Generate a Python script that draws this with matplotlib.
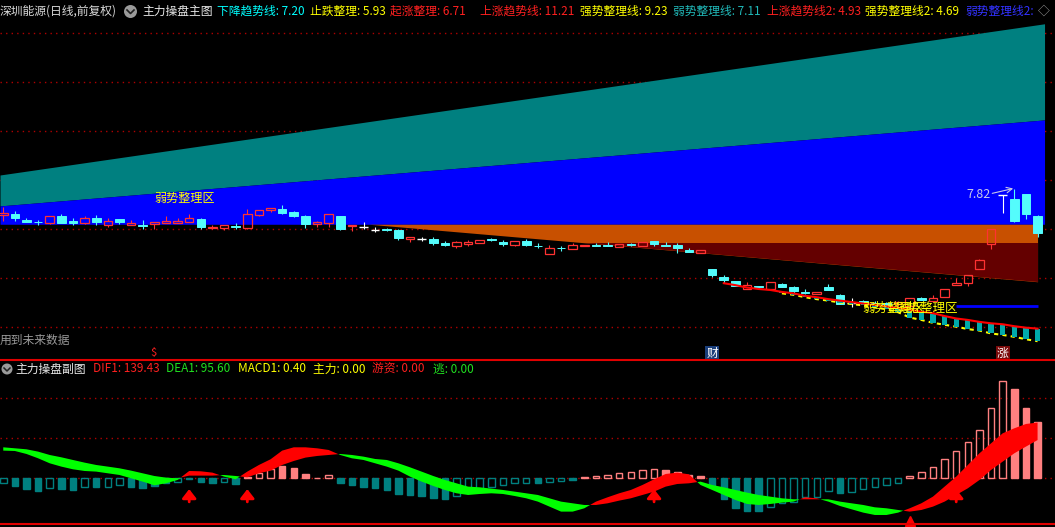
import numpy as np
import matplotlib
matplotlib.use("Agg")
import matplotlib.pyplot as plt
from matplotlib.lines import Line2D
from matplotlib.patches import Ellipse

plt.rcParams['font.family'] = ['Noto Sans CJK SC', 'DejaVu Sans']

# ---- main chart data (daily candles) ----
opens = [7.28, 7.30, 7.18, 7.14, 7.12, 7.26, 7.16, 7.12, 7.23, 7.08,
         7.19, 7.08, 7.08, 7.09, 7.12, 7.12, 7.14, 7.19, 7.02, 7.01,
         7.05, 7.02, 7.29, 7.39, 7.41, 7.34, 7.26, 7.09, 7.11, 7.26,
         7.05, 7.03, 6.98, 6.99, 6.97, 6.78, 6.79, 6.79, 6.70, 6.63,
         6.69, 6.71, 6.78, 6.72, 6.67, 6.74, 6.64, 6.48, 6.60, 6.58,
         6.63, 6.67, 6.67, 6.61, 6.68, 6.63, 6.74, 6.66, 6.67, 6.56,
         6.50, 6.16, 5.99, 5.92, 5.76, 5.81, 5.76, 5.86, 5.79, 5.69,
         5.65, 5.80, 5.62, 5.47, 5.50, 5.47, 5.46, 5.43, 5.40, 5.56,
         5.51, 5.58, 5.83, 5.88, 6.16, 6.68, 7.70, 7.61, 7.72, 7.26]
closes = [7.33, 7.21, 7.14, 7.13, 7.26, 7.12, 7.12, 7.23, 7.14, 7.15,
          7.14, 7.12, 7.05, 7.13, 7.16, 7.16, 7.23, 7.03, 7.04, 7.08,
          7.03, 7.30, 7.38, 7.42, 7.33, 7.27, 7.10, 7.13, 7.30, 6.99,
          7.08, 7.03, 6.98, 6.97, 6.81, 6.82, 6.79, 6.70, 6.67, 6.72,
          6.72, 6.76, 6.77, 6.68, 6.74, 6.66, 6.63, 6.60, 6.59, 6.66,
          6.66, 6.65, 6.63, 6.68, 6.67, 6.72, 6.68, 6.65, 6.60, 6.52,
          6.55, 6.03, 5.94, 5.81, 5.83, 5.79, 5.90, 5.80, 5.71, 5.67,
          5.69, 5.73, 5.45, 5.47, 5.47, 5.44, 5.42, 5.48, 5.56, 5.52,
          5.56, 5.76, 5.87, 6.05, 6.35, 6.99, 7.70, 7.16, 7.31, 6.90]
highs = [7.45, 7.37, 7.23, 7.18, 7.26, 7.30, 7.22, 7.26, 7.29, 7.21,
         7.19, 7.18, 7.18, 7.13, 7.26, 7.21, 7.30, 7.23, 7.08, 7.08,
         7.11, 7.40, 7.38, 7.42, 7.49, 7.36, 7.28, 7.16, 7.30, 7.26,
         7.08, 7.13, 7.04, 7.02, 6.99, 6.82, 6.83, 6.82, 6.74, 6.75,
         6.76, 6.76, 6.80, 6.76, 6.74, 6.79, 6.70, 6.66, 6.64, 6.70,
         6.67, 6.70, 6.72, 6.68, 6.71, 6.72, 6.74, 6.72, 6.70, 6.60,
         6.55, 6.16, 6.03, 5.92, 5.90, 5.81, 5.90, 5.87, 5.81, 5.75,
         5.69, 5.85, 5.64, 5.56, 5.52, 5.50, 5.49, 5.50, 5.56, 5.58,
         5.63, 5.76, 5.97, 6.05, 6.38, 6.99, 7.70, 7.82, 7.72, 7.28]
lows = [7.16, 7.16, 7.14, 7.07, 7.10, 7.12, 7.08, 7.10, 7.07, 7.04,
        7.10, 7.08, 7.00, 6.99, 7.12, 7.12, 7.14, 7.00, 6.99, 6.97,
        6.99, 6.99, 7.26, 7.34, 7.30, 7.25, 7.02, 7.04, 7.04, 6.98,
        6.96, 6.99, 6.92, 6.95, 6.76, 6.73, 6.75, 6.66, 6.63, 6.60,
        6.65, 6.71, 6.75, 6.64, 6.63, 6.63, 6.59, 6.48, 6.54, 6.58,
        6.63, 6.65, 6.63, 6.61, 6.63, 6.63, 6.64, 6.65, 6.50, 6.52,
        6.50, 5.99, 5.87, 5.81, 5.76, 5.74, 5.72, 5.79, 5.66, 5.64,
        5.65, 5.73, 5.44, 5.38, 5.44, 5.40, 5.38, 5.40, 5.40, 5.52,
        5.51, 5.58, 5.83, 5.81, 6.16, 6.57, 7.33, 7.14, 7.19, 6.82]

# trend zones: values at the left / right edge of the chart
edge_x = [-0.28, 89.6]
up_trend = [8.11, 11.24]       # 上涨趋势线
strong_line = [7.47, 9.25]     # 强势整理线
weak_line = [7.09, 7.09]       # 弱势整理线
zone_x = [31.5, 89.0]
stop_line = [7.09, 5.90]       # 止跌整理
rise_line = [6.71, 6.71]       # 起涨整理

# support band on the right (上涨趋势线2 / 强势整理线2)
up2_start = 62
up2 = [5.87, 5.83, 5.78, 5.75, 5.73, 5.69, 5.66, 5.61, 5.58, 5.54,
       5.51, 5.48, 5.45, 5.42, 5.39, 5.36, 5.32, 5.28, 5.25, 5.19,
       5.14, 5.11, 5.07, 5.04, 5.02, 4.98, 4.95, 4.93]
strong2_start = 67
strong2 = [5.66, 5.63, 5.58, 5.54, 5.51, 5.47, 5.44, 5.41, 5.37, 5.33,
           5.27, 5.16, 5.11, 5.05, 5.01, 4.97, 4.92, 4.89, 4.83, 4.80,
           4.76, 4.71, 4.67]
weak2_x = [82, 89]
weak2 = 5.40

grid_prices = [4.96, 5.98, 6.99, 8.01, 9.02, 10.03, 11.05]

# ---- sub chart data ----
dif = [69.2, 68.3, 60.8, 50, 37.5, 29.2, 22.5, 18.3, 16.7, 12.5,
       8.3, 0, -8.3, -17.5, -12.5, -4.2, 18.3, 17.5, 14.2, 4.2,
       -2.5, 16.7, 33.3, 47.5, 69.2, 77.5, 77.5, 75, 70.8, 58.3,
       50, 45.8, 37.5, 29.2, 19.2, 4.2, -8.3, -19.2, -29.2, -37.5,
       -41.7, -39.2, -37.5, -39.2, -44.2, -50, -58.3, -70.8, -83.3, -83.3,
       -75, -58.3, -47.5, -37.5, -29.2, -16.7, -2.5, 10.8, 14.2, 10,
       -16.7, -29.2, -41.7, -54.2, -64.2, -66.7, -64.2, -60.8, -58.3, -47.5,
       -50, -58.3, -69.2, -77.5, -85.8, -91.7, -91.7, -85.8, -75, -62.5,
       -45.8, -20.8, 4.2, 33.3, 62.5, 87.5, 112.5, 125, 135.8, 139.43]
dea = [77.5, 75, 72.5, 66.7, 58.3, 52.5, 45.8, 39.2, 33.3, 29.2,
       25, 19.2, 12.5, 5.8, 1.7, 0, 6.7, 6.7, 6.7, 8.3,
       5.8, 2.5, 12.5, 19.2, 33.3, 43.3, 51.7, 55.8, 58.3, 60.8,
       58.3, 54.2, 48.3, 45.8, 37.5, 27.5, 16.7, 5.8, -4.2, -12.5,
       -20.8, -22.5, -25.8, -29.2, -33.3, -37.5, -41.7, -50, -58.3, -62.5,
       -66.7, -66.7, -62.5, -55.8, -50, -41.7, -33.3, -20.8, -14.2, -12.5,
       -8.3, -16.7, -22.5, -29.2, -35.8, -41.7, -45.8, -50, -52.5, -52.5,
       -52.5, -52.5, -58.3, -62.5, -66.7, -72.5, -75, -79.2, -83.3, -79.2,
       -70.8, -58.3, -41.7, -25, -4.2, 20.8, 41.7, 62.5, 79.2, 95.6]
hist = [-12.5, -19.2, -26.7, -31.7, -23.3, -26.7, -29.2, -20.8, -20.8, -20.8,
        -17.5, -20.8, -23.3, -19.2, -12.5, -10, -1.7, -8.3, -12.5, -10,
        -13.3, 4.2, 12.5, 22.5, 30.8, 25, 10.8, 1.7, 7.5, -10.8,
        -16.7, -20.8, -23.3, -29.2, -39.2, -41.7, -44.2, -48.3, -51.7, -43.3,
        -33.3, -29.2, -22.5, -17.5, -10.8, -10.8, -10.8, -10, -7.5, -3.3,
        3.3, 5, 7.5, 12.5, 15, 20, 22.5, 20, 15, 8.3,
        5, -20.8, -52.5, -73.3, -80.8, -80.8, -70.8, -62.5, -60, -47.5,
        -45.8, -30.8, -35.8, -33.3, -27.5, -22.5, -17.5, -10.8, 5.8, 15,
        27.5, 47.5, 67.5, 90, 120, 175, 244.2, 223.3, 175.8, 140.8]
hollow = [1, 0, 0, 0, 1, 0, 0, 1, 0, 1,
          1, 0, 0, 0, 0, 1, 0, 0, 0, 1,
          0, 0, 1, 1, 0, 0, 0, 0, 1, 0,
          0, 0, 0, 0, 0, 0, 0, 0, 0, 1,
          1, 1, 1, 1, 1, 1, 0, 1, 1, 0,
          0, 1, 1, 1, 1, 1, 1, 0, 0, 0,
          0, 0, 0, 0, 0, 0, 1, 1, 1, 1,
          1, 1, 0, 1, 1, 1, 1, 1, 1, 1,
          1, 1, 1, 1, 1, 1, 1, 0, 0, 0]
arrow_idx = [16, 21, 56, 82]
triangle_idx = [78]

RED = '#FF3232'
CYAN = '#54FCFC'
TEAL = '#008080'
PINK = '#FF8080'
YEL = '#FFFF00'

W, H = 1055, 527
fig = plt.figure(figsize=(W / 100, H / 100), dpi=100, facecolor='black')


def fx(px):
    return px / W


def fy(py):
    return 1 - py / H


ax = fig.add_axes([0, fy(358), 1, (358 - 20) / H])
ax2 = fig.add_axes([0, 0, 1, (527 - 360) / H])
for a in (ax, ax2):
    a.axis('off')
    a.set_xlim(-0.28, 90.5)
ax.set_ylim(4.322, 11.318)
ax2.set_ylim(-121.75, 295.75)

# ---------------- main chart ----------------
for p in grid_prices:
    ax.axhline(p, color='#B00000', lw=1, ls=(0, (1, 3)), zorder=0)

ax.fill_between(edge_x, strong_line, up_trend, color='#008080', lw=0, zorder=1)
ax.fill_between(edge_x, weak_line, strong_line, color='#0000FF', lw=0, zorder=1)
ax.fill_between(zone_x, weak_line, stop_line, color='#C85000', lw=0, zorder=1)
ax.fill_between(zone_x, rise_line, stop_line,
                where=np.less(stop_line, rise_line), interpolate=True,
                color='#640000', lw=0, zorder=1)

x = np.arange(len(opens))
o, c = np.array(opens), np.array(closes)
h, l = np.array(highs), np.array(lows)
up, dn, flat = c > o, c < o, c == o
bw = 0.74

# up candles: hollow body, wick drawn only outside the body
ax.vlines(x[up], l[up], o[up], color=RED, lw=0.8, zorder=4)
ax.vlines(x[up], c[up], h[up], color=RED, lw=0.8, zorder=4)
ax.bar(x[up], c[up] - o[up], bottom=o[up], width=bw, facecolor='none',
       edgecolor=RED, lw=0.9, zorder=5)
ax.vlines(x[dn], l[dn], h[dn], color=CYAN, lw=0.8, zorder=4)
ax.bar(x[dn], o[dn] - c[dn], bottom=c[dn], width=bw, facecolor=CYAN,
       edgecolor=CYAN, lw=0.7, zorder=5)
ax.vlines(x[flat], l[flat], h[flat], color='white', lw=0.8, zorder=4)
ax.hlines(o[flat], x[flat] - bw / 2, x[flat] + bw / 2, color='white', lw=1, zorder=5)

# support band
xs2 = np.arange(strong2_start, strong2_start + len(strong2))
xu2 = np.arange(up2_start, up2_start + len(up2))
up2_a = np.array(up2)
ax.plot(xs2, strong2, color=YEL, lw=1.5, ls=(0, (2, 2)), zorder=6)
ax.bar(xs2, up2_a[strong2_start - up2_start:] - np.array(strong2), bottom=strong2,
       width=0.45, color='#00AAAA', lw=0, zorder=6)
ax.plot(xu2, up2, color='#FF0000', lw=1.5, zorder=7)
ax.hlines(weak2, weak2_x[0], weak2_x[1], color='#0000FF', lw=2, zorder=7)

# labels
ax.text(13.0, 7.634, '弱势整理区', color=YEL, fontsize=8.7, va='center', zorder=8)
ax.text(73.9, 5.357, '弱势整理区', color=YEL, fontsize=9, va='center', zorder=8)
ax.text(76.8, 5.357, '弱势整理区', color=YEL, fontsize=9, va='center', zorder=8)
ax.text(82.9, 7.706, '7.82', color='#C8C8E8', fontsize=9, va='center', zorder=8)
ax.annotate('', xy=(86.9, 7.83), xytext=(85.1, 7.73),
            arrowprops=dict(arrowstyle='->', color='#C8C8E8', lw=0.8,
                            shrinkA=0, shrinkB=0), zorder=8)
ax.text(-0.28, 4.694, '用到未来数据', color='#9A9A9A', fontsize=8.5, va='center')
ax.text(12.9, 4.42, '$', color='#FF2020', fontsize=8, ha='center', va='center')
ax.text(61, 4.42, '财', color='white', fontsize=8.5, ha='center', va='center',
        bbox=dict(boxstyle='square,pad=0.08', fc='#1A3E7A', ec='none'))
ax.text(86, 4.42, '涨', color='white', fontsize=8.5, ha='center', va='center',
        bbox=dict(boxstyle='square,pad=0.08', fc='#7A0A0A', ec='none'))

# ---------------- sub chart ----------------
for v in [0, 100, 200]:
    ax2.axhline(v, color='#B00000', lw=1, ls=(0, (1, 3)), zorder=0)

hist_a = np.array(hist)
hol = np.array(hollow, dtype=bool)
cols = np.where(hist_a >= 0, PINK, TEAL)
faces = np.where(hol, 'none', cols)
ax2.bar(x, hist_a, width=0.56, facecolor=faces, edgecolor=cols, lw=1, zorder=2)

dif_a, dea_a = np.array(dif), np.array(dea)
ax2.fill_between(x, dif_a, dea_a, where=dif_a >= dea_a, interpolate=True,
                 color='#FF0000', lw=0, zorder=3)
ax2.fill_between(x, dif_a, dea_a, where=dif_a <= dea_a, interpolate=True,
                 color='#00FF00', lw=0, zorder=3)

for i in arrow_idx:
    ax2.annotate('', xy=(i, -27), xytext=(i, -59),
                 arrowprops=dict(arrowstyle='-|>,head_width=0.35,head_length=0.45',
                                 color='#FF0000', lw=2, shrinkA=0, shrinkB=0,
                                 mutation_scale=12), zorder=4)
ax2.plot(triangle_idx, [-106] * len(triangle_idx), marker='^', ms=7,
         color='#FF0000', ls='none', zorder=4)
ax2.axhline(-115, color='#E00000', lw=1.5, zorder=4)

# separator line between the two panels
fig.add_artist(Line2D([0, 1], [fy(359.5), fy(359.5)], color='#E00000', lw=1.5,
                      transform=fig.transFigure))

# ---------------- headers ----------------
hy = fy(11.5)
fig.text(fx(0), hy, '深圳能源(日线,前复权)', color='#D8D8D8', fontsize=8.5, va='center')
fig.add_artist(Ellipse((fx(130.5), fy(11.5)), 13 / W, 13 / H, facecolor='#9A9A9A',
                       edgecolor='none', transform=fig.transFigure))
fig.add_artist(Line2D([fx(127), fx(130.5), fx(134)], [fy(10), fy(13.5), fy(10)],
                      color='#202020', lw=1.2, transform=fig.transFigure))
header_items = [
    (142, '主力操盘主图', '#E8E8E8'),
    (217, '下降趋势线: 7.20', '#00FFFF'),
    (310, '止跌整理: 5.93', YEL),
    (390, '起涨整理: 6.71', '#FF2020'),
    (480, '上涨趋势线: 11.21', '#FF2020'),
    (580, '强势整理线: 9.23', YEL),
    (673, '弱势整理线: 7.11', '#20B8B8'),
    (767, '上涨趋势线2: 4.93', '#FF2020'),
    (865, '强势整理线2: 4.69', YEL),
    (965, '弱势整理线2:', '#3232FF'),
    (1038, '◇', '#A0A0A0'),
]
for px, s, col in header_items:
    fig.text(fx(px), hy, s, color=col, fontsize=8.5, va='center')

by = fy(369)
fig.add_artist(Ellipse((fx(7), by), 11 / W, 11 / H, facecolor='#9A9A9A',
                       edgecolor='none', transform=fig.transFigure))
fig.add_artist(Line2D([fx(4), fx(7), fx(10)], [fy(368), fy(371), fy(368)],
                      color='#202020', lw=1.1, transform=fig.transFigure))
sub_items = [
    (15, '主力操盘副图', '#E8E8E8'),
    (93, 'DIF1: 139.43', '#FF2020'),
    (166, 'DEA1: 95.60', '#20E020'),
    (238, 'MACD1: 0.40', YEL),
    (313, '主力: 0.00', YEL),
    (372, '游资: 0.00', '#FF2020'),
    (433, '逃: 0.00', '#20E020'),
]
for px, s, col in sub_items:
    fig.text(fx(px), by, s, color=col, fontsize=8.5, va='center')

fig.savefig('out.png', dpi=100, facecolor='black')
